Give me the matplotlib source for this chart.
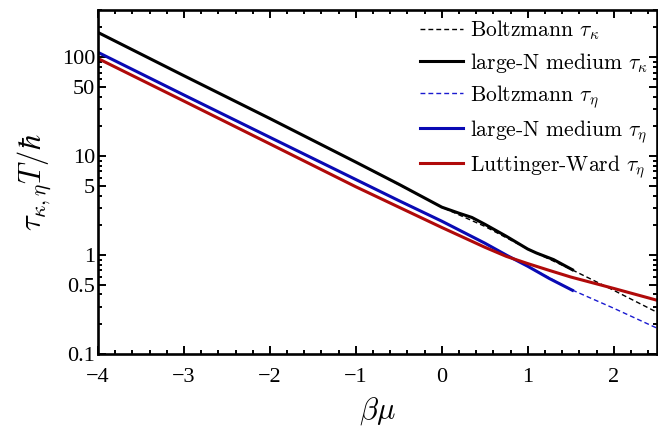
import matplotlib
matplotlib.use("Agg")
import matplotlib.pyplot as plt
from matplotlib.ticker import FixedLocator, FixedFormatter, MultipleLocator, LogLocator, NullFormatter
import numpy as np

plt.rcParams['mathtext.fontset'] = 'cm'
plt.rcParams['font.family'] = ['Liberation Serif', 'DejaVu Serif']

# large-N medium tau_kappa (black solid)
bm_k_med = [-4.0, -3.0, -2.0, -1.0, -0.5, 0.0, 0.2, 0.35, 0.5, 0.75, 1.0, 1.1, 1.3, 1.52]
tk_med = [178, 65, 24, 8.7, 5.2, 3.05, 2.65, 2.4, 2.05, 1.55, 1.15, 1.05, 0.9, 0.71]
# Boltzmann tau_kappa (black dashed)
bm_k_boltz = [-4.0, -3.0, -2.0, -1.0, 0.0, 0.5, 1.0, 1.5, 2.0, 2.5]
tk_boltz = [178, 65, 24, 8.7, 3.05, 1.95, 1.15, 0.72, 0.44, 0.265]
# large-N medium tau_eta (blue solid)
bm_e_med = [-4.0, -3.0, -2.0, -1.0, -0.5, 0.0, 0.5, 0.75, 1.0, 1.25, 1.52]
te_med = [112, 41.5, 15.5, 5.8, 3.55, 2.2, 1.32, 1.0, 0.77, 0.58, 0.44]
# Boltzmann tau_eta (blue dashed)
bm_e_boltz = [-4.0, -3.0, -2.0, -1.0, 0.0, 0.5, 1.0, 1.5, 2.0, 2.5]
te_boltz = [112, 41.5, 15.5, 5.8, 2.2, 1.32, 0.77, 0.45, 0.29, 0.183]
# Luttinger-Ward tau_eta (red)
bm_lw = [-4.0, -3.0, -2.0, -1.0, -0.5, 0.0, 0.5, 0.75, 1.0, 1.25, 1.5, 2.0, 2.5]
te_lw = [97, 36, 13.3, 4.9, 3.05, 1.9, 1.2, 0.97, 0.82, 0.70, 0.6, 0.46, 0.35]

yticks = [0.1, 0.5, 1, 5, 10, 50, 100]
ytick_labels = ['0.1', '0.5', '1', '5', '10', '50', '100']
xticks = [-4, -3, -2, -1, 0, 1, 2]
xtick_labels = ['\u22124', '\u22123', '\u22122', '\u22121', '0', '1', '2']

fig = plt.figure(figsize=(6.58, 4.37), dpi=100)
ax = fig.add_axes([0.149, 0.19, 0.849, 0.787])

ax.plot(bm_k_boltz, tk_boltz, color='black', ls=(0, (3.5, 2.2)), lw=1.0, label=r'Boltzmann $\tau_\kappa$')
ax.plot(bm_k_med, tk_med, color='black', lw=2.2, label=r'large-N medium $\tau_\kappa$')
ax.plot(bm_e_boltz, te_boltz, color='#1a1ad0', ls=(0, (3.5, 2.2)), lw=1.0, label=r'Boltzmann $\tau_\eta$')
ax.plot(bm_e_med, te_med, color='#0a0ab4', lw=2.2, label=r'large-N medium $\tau_\eta$')
ax.plot(bm_lw, te_lw, color='#b00a0a', lw=2.2, label=r'Luttinger-Ward $\tau_\eta$')

ax.set_yscale('log')
ax.set_xlim(-4, 2.5)
ax.set_ylim(0.1, 300)

ax.yaxis.set_major_locator(FixedLocator(yticks))
ax.yaxis.set_major_formatter(FixedFormatter(ytick_labels))
ax.yaxis.set_minor_locator(LogLocator(base=10, subs=np.arange(1, 10)))
ax.yaxis.set_minor_formatter(NullFormatter())
ax.xaxis.set_major_locator(FixedLocator(xticks))
ax.xaxis.set_major_formatter(FixedFormatter(xtick_labels))
ax.xaxis.set_minor_locator(MultipleLocator(0.2))

ax.tick_params(which='both', direction='in', top=True, right=True, width=1.4)
ax.tick_params(which='major', length=6, labelsize=16)
ax.tick_params(which='minor', length=3)
ax.tick_params(axis='x', which='major', pad=10)
ax.tick_params(axis='y', which='major', pad=2)
for s in ax.spines.values():
    s.set_linewidth(1.9)

ax.set_xlabel(r'$\beta\mu$', fontsize=22, labelpad=6)
ax.set_ylabel(r'$\tau_{\kappa,\eta}T/\hbar$', fontsize=22, labelpad=6)

leg = ax.legend(loc='upper right', frameon=False, prop={'family': 'cmr10', 'size': 15.5},
                handlelength=2.0, handletextpad=0.3, labelspacing=0.38,
                borderaxespad=0.1, borderpad=0.3)

fig.savefig('out.png', dpi=100)
